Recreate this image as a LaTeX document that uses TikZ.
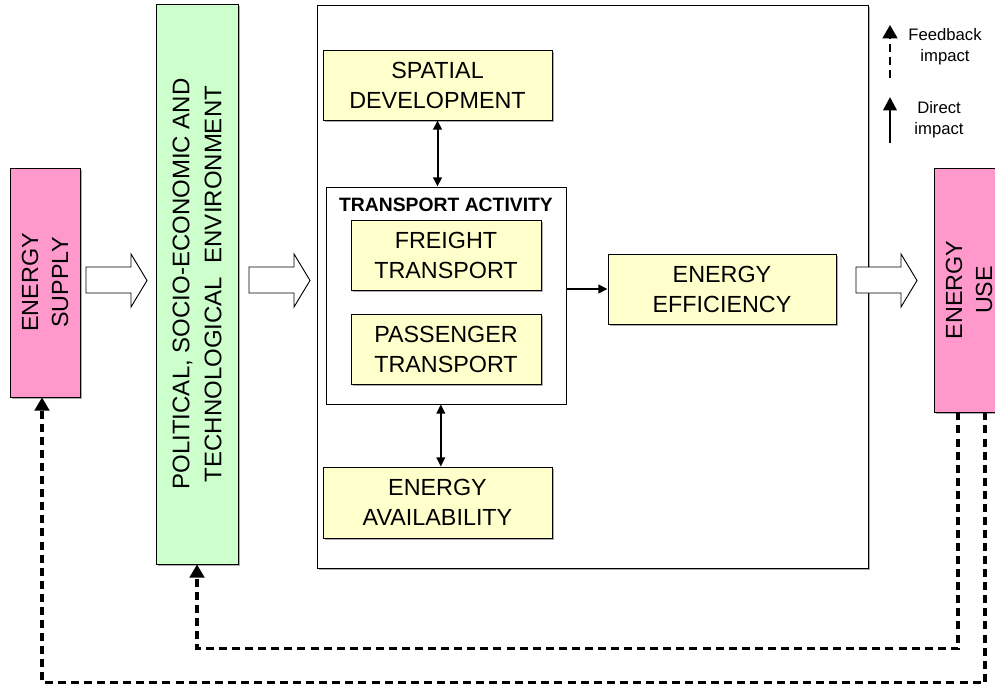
\documentclass[tikz,border=0pt]{standalone}
\usepackage{fontspec}
\setmainfont{Liberation Sans}
\usetikzlibrary{arrows.meta,shadows}

\definecolor{supplypink}{HTML}{FF99CC}
\definecolor{envgreen}{HTML}{CCFFCC}
\definecolor{factoryellow}{HTML}{FFFFCC}

\tikzset{
    box/.style={draw, line width=0.6pt, align=center, inner sep=0pt,
        font=\fontsize{17.5}{22.5}\selectfont,
        drop shadow={shadow xshift=1.2pt, shadow yshift=-1.2pt, fill=black!40, opacity=0.8}},
    factor/.style={box, fill=factoryellow, minimum width=171.75pt, minimum height=52.5pt},
    energybox/.style={box, fill=supplypink, rotate=90, minimum height=52.5pt},
    direct/.style={line width=1.5pt, -{Triangle[length=7pt,width=6.5pt]}},
    twoway/.style={line width=1.5pt, {Triangle[length=7pt,width=6.5pt]}-{Triangle[length=7pt,width=6.5pt]}},
    feedback/.style={line width=2.3pt, dash pattern=on 6pt off 3.8pt, -{Triangle[length=10pt,width=11pt]}},
    legendtext/.style={align=center, font=\fontsize{12.5}{15.75}\selectfont}
}

\begin{document}
\begin{tikzpicture}[x=0.75pt, y=-0.75pt]
    \useasboundingbox (0,0) rectangle (995,684);

    % outer frame of the transport system
    \node[draw, line width=0.6pt, fill=white, minimum width=413.25pt, minimum height=422.25pt,
        drop shadow={shadow xshift=1.2pt, shadow yshift=-1.2pt, fill=black!40, opacity=0.8}]
        (system) at (592.5,286.5) {};

    % energy boxes (rotated: west is the bottom side)
    \node[energybox, minimum width=171.75pt] (supply) at (45,282.5) {ENERGY\\SUPPLY};
    \node[energybox, minimum width=183pt] (use) at (969,290) {ENERGY\\USE};

    % environment
    \node[box, fill=envgreen, rotate=90, minimum width=420pt, minimum height=61.5pt,
        font=\fontsize{18}{24}\selectfont] (env) at (197,284)
        {POLITICAL, SOCIO-ECONOMIC AND\\TECHNOLOGICAL\ \ ENVIRONMENT};

    % factors
    \node[factor] (spatial) at (437.5,85) {SPATIAL\\DEVELOPMENT};
    \node[factor, minimum height=53.25pt] (avail) at (437.5,502.5) {ENERGY\\AVAILABILITY};
    \node[factor, minimum width=171pt] (effic) at (722,289) {ENERGY\\EFFICIENCY};

    % transport activity
    \node[draw, line width=0.6pt, fill=white, minimum width=180pt, minimum height=162.75pt] (activity) at (446,295.5) {};
    \node[font=\fontsize{14.5}{17}\selectfont\bfseries] (acttitle) at (446,205) {TRANSPORT ACTIVITY};
    \node[factor, minimum width=142.5pt] (freight) at (446,255) {FREIGHT\\TRANSPORT};
    \node[factor, minimum width=142.5pt] (passenger) at (446,349) {PASSENGER\\TRANSPORT};

    % block arrows
    \foreach \x in {86,249,856}
        \draw[line width=0.7pt, fill=white] (\x,267) -- ({\x+45},267) -- ({\x+45},254) -- ({\x+61},280.5)
            -- ({\x+45},307) -- ({\x+45},293) -- (\x,293) -- cycle;

    % direct impacts
    \draw[twoway] (spatial.south) -- (spatial.south |- activity.north);
    \draw[twoway] ([xshift=2.5pt]avail.north) -- ([xshift=2.5pt]avail.north |- activity.south);
    \draw[direct] (activity.east |- effic.west) -- (effic.west);

    % feedback impacts
    \draw[feedback] ([xshift=-8.25pt]use.west) -- ++(0,236) -| (env.west);
    \draw[feedback] ([xshift=12pt]use.west) -- ++(0,270) -| ([xshift=-2.25pt]supply.west);

    % legend
    \coordinate (fbtail) at (890,78);
    \coordinate (dirtail) at (890,143);
    \draw[feedback, line width=1.8pt] (fbtail) -- ++(0,-53);
    \draw[direct, line width=1.8pt, -{Triangle[length=10pt,width=10pt]}] (dirtail) -- ++(0,-46);
    \node[legendtext] (fblabel) at (945,47) {Feedback\\impact};
    \node[legendtext] (dirlabel) at (939,120) {Direct\\impact};
\end{tikzpicture}
\end{document}
